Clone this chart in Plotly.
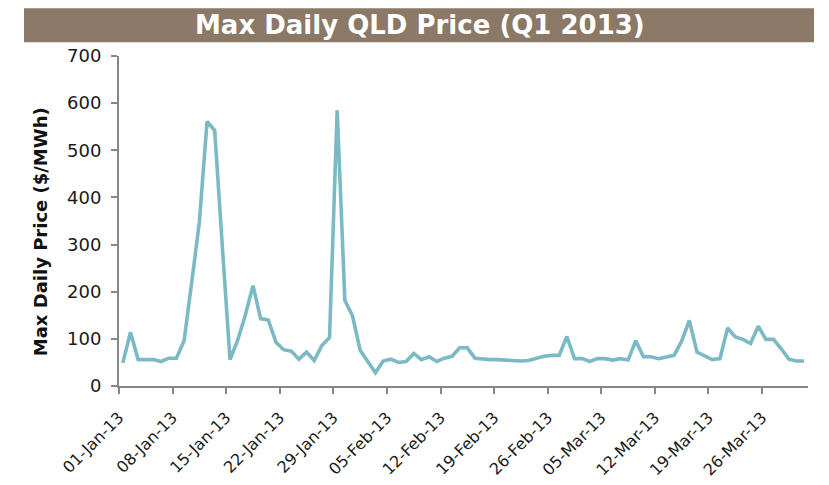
import pandas as pd
import plotly.graph_objects as go

# Daily maximum QLD spot price, 1 Jan 2013 - 31 Mar 2013 ($/MWh)
dates = pd.date_range("2013-01-01", "2013-03-31", freq="D")
max_price = [
    49, 114, 56, 56, 56, 52, 59, 59, 96, 220,
    348, 561, 542, 295, 56, 97, 150, 213, 143, 140,
    93, 77, 74, 57, 72, 54, 86, 103, 585, 182,
    149, 76, 51, 28, 53, 57, 50, 52, 69, 56,
    62, 52, 59, 63, 81, 81, 59, 57, 56, 56,
    55, 53, 53, 54, 58, 63, 65, 65, 105, 58,
    58, 52, 58, 58, 55, 58, 55, 96, 62, 62,
    58, 62, 65, 95, 139, 72, 63, 56, 58, 123,
    104, 99, 90, 127, 99, 99, 79, 57, 53, 53,
]

tick_dates = pd.date_range("2013-01-01", "2013-03-26", freq="7D")
y_ticks = [0, 100, 200, 300, 400, 500, 600, 700]

title_text = "Max Daily QLD Price (Q1 2013)"
y_title = "Max Daily Price ($/MWh)"

LINE = "#7BBAC4"
AXIS = "#868686"
BAR = "#8B7866"
FONT = "DejaVu Sans"

fig = go.Figure(
    go.Scatter(
        x=dates,
        y=max_price,
        mode="lines",
        line=dict(color=LINE, width=3.6),
        xperiod=86400000,
        xperiodalignment="middle",
        hoverinfo="x+y",
    )
)

fig.update_layout(
    width=829,
    height=485,
    margin=dict(l=119, r=21, t=56, b=99),
    paper_bgcolor="white",
    plot_bgcolor="white",
    showlegend=False,
    font=dict(family=FONT, color="#1a1a1a", size=16),
)

fig.update_xaxes(
    type="date",
    range=["2013-01-01", "2013-04-01"],
    tickvals=tick_dates,
    tickformat="%d-%b-%y",
    tickangle=-45,
    ticks="outside",
    ticklen=6,
    tickwidth=1.5,
    tickcolor=AXIS,
    showline=True,
    linecolor=AXIS,
    linewidth=2,
    showgrid=False,
    zeroline=False,
    automargin=False,
    ticklabelstandoff=8,
    tickfont=dict(family=FONT, size=16, color="#1a1a1a"),
)

fig.update_yaxes(
    range=[0, 700],
    tickvals=y_ticks,
    ticks="outside",
    ticklen=6,
    tickwidth=1.5,
    tickcolor=AXIS,
    showline=True,
    linecolor=AXIS,
    linewidth=2,
    showgrid=False,
    zeroline=False,
    automargin=False,
    ticklabelstandoff=6,
    tickfont=dict(family=FONT, size=18, color="#1a1a1a"),
)

# Vertical axis caption, set to the left of the tick labels
fig.add_annotation(
    xref="paper", yref="paper",
    x=-0.1147, y=0.469,
    text="<b>" + y_title + "</b>",
    textangle=-90,
    showarrow=False,
    font=dict(family=FONT, size=18, color="#111111"),
    xanchor="center", yanchor="middle",
)

# Brown heading band with the chart title
fig.add_shape(
    type="rect",
    xref="paper", yref="paper",
    x0=-0.1379, x1=1.0087, y0=1.0415, y1=1.145,
    fillcolor=BAR, line=dict(width=0), layer="below",
)
fig.add_annotation(
    xref="paper", yref="paper",
    x=0.4369, y=1.093,
    text="<b>" + title_text + "</b>",
    showarrow=False,
    font=dict(family=FONT, size=26, color="white"),
    xanchor="center", yanchor="middle",
)

fig.write_html("out.html")
